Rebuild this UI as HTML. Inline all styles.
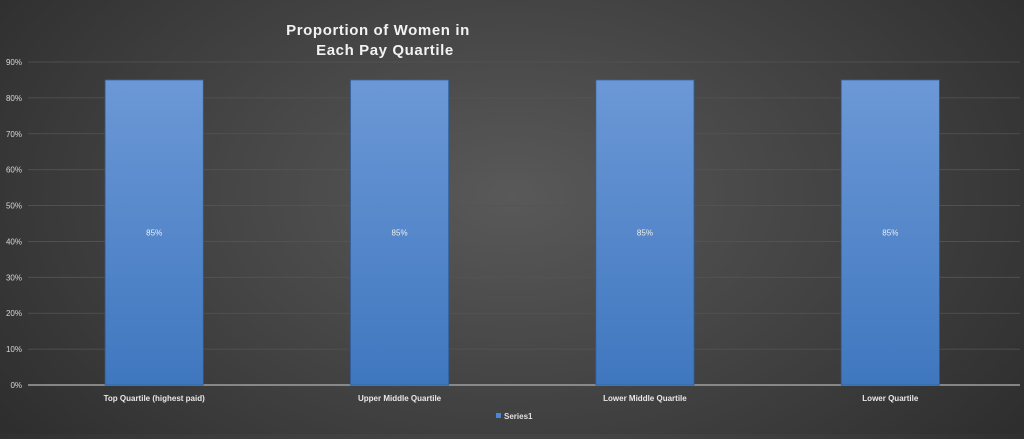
<!DOCTYPE html>
<html><head><meta charset="utf-8"><style>
body{margin:0;width:1024px;height:434px;overflow:hidden;background:radial-gradient(ellipse 75% 110% at 50% 45%,#595959 0%,#3a3a3a 60%,#242424 100%);font-family:"Liberation Sans",sans-serif}
svg text{font-family:"Liberation Sans",sans-serif}
</style></head><body>
<svg id="c" width="1024" height="434">
<defs><linearGradient id="bg" x1="0" y1="0" x2="0" y2="1"><stop offset="0" stop-color="#6c98d6"/><stop offset="1" stop-color="#3f77bf"/></linearGradient></defs>
<text x="378" y="35" fill="#f2f2f2" font-size="15" font-weight="bold" text-anchor="middle" letter-spacing="0.6">Proportion of Women in</text>
<text x="385" y="55" fill="#f2f2f2" font-size="15" font-weight="bold" text-anchor="middle" letter-spacing="0.6">Each Pay Quartile</text>
<g id="g"></g>
<rect x="496" y="413" width="5" height="5" fill="#4a86d8"/>
<text x="504" y="419" fill="#e0e0e0" font-size="8" font-weight="bold">Series1</text>
</svg>
<script>
const categories=["Top Quartile (highest paid)","Upper Middle Quartile","Lower Middle Quartile","Lower Quartile"];
const values=[85,85,85,85];
const ticks=[0,10,20,30,40,50,60,70,80,90];
const ns="http://www.w3.org/2000/svg",g=document.getElementById('g');
const x0=31.5,x1=1013,y0=385,yMax=90,yTop=62;
const y=v=>y0-(v/yMax)*(y0-yTop);
const band=(x1-x0)/categories.length;
function mk(t,a,txt){const e=document.createElementNS(ns,t);for(const k in a)e.setAttribute(k,a[k]);if(txt!=null)e.textContent=txt;g.appendChild(e);return e;}
ticks.forEach(t=>{
 const l=mk('line',{x1:28,x2:1020,y1:y(t),y2:y(t),stroke:t?'#545454':'#a0a0a0','stroke-width':t?0.8:1.5});
 
 
 const tx=mk('text',{x:22,y:y(t)+3,fill:'#d8d8d8','font-size':8,'text-anchor':'end'},t+'%');
 
 
});
categories.forEach((c,i)=>{
 const cx=x0+band*(i+0.5),w=band*0.4,v=values[i];
 const r=mk('rect',{x:cx-w/2,y:y(v),width:w,height:y0-y(v),fill:'url(#bg)',stroke:'#2f5f9e','stroke-width':0.8});
 
 
 const lb=mk('text',{x:cx,y:(y(v)+y0)/2+3,fill:'#f0f0f0','font-size':8,'text-anchor':'middle'},v+'%');
 
 
 const xl=mk('text',{x:cx,y:401,fill:'#e8e8e8','font-size':8,'font-weight':'bold','text-anchor':'middle'},c);
 
 
});
</script>
</body></html>
